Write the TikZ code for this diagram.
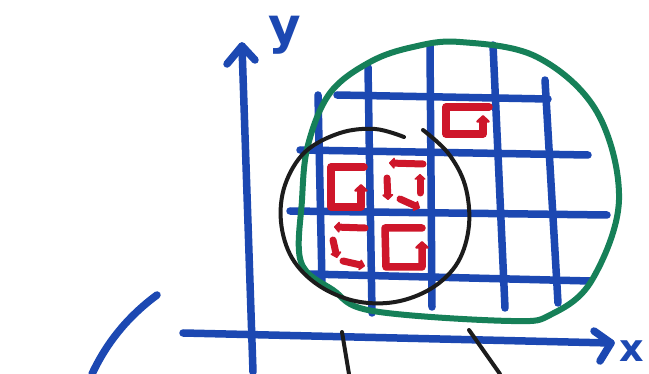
\documentclass[tikz,border=0pt]{standalone}
\usepackage{fontspec}
\usetikzlibrary{arrows.meta}
\newfontfamily\handfont{DejaVu Sans}
\definecolor{mblue}{RGB}{28,72,178}
\definecolor{mgreen}{RGB}{22,128,88}
\definecolor{mred}{RGB}{206,22,42}
\definecolor{mblack}{RGB}{28,28,28}
\tikzset{
  blueline/.style={draw=mblue,line width=7.5pt,line cap=round,line join=round},
  greenline/.style={draw=mgreen,line width=6pt,line cap=round,line join=round},
  blackline/.style={draw=mblack,line width=4pt,line cap=round,line join=round},
  redline/.style={draw=mred,line width=7.5pt,line cap=round,line join=round,-{Triangle[length=8pt,width=16pt,round]}},
  redsmall/.style={draw=mred,line width=7pt,line cap=round,line join=round,-{Triangle[length=6pt,width=13pt,round]}},
  lbl/.style={text=mblue,inner sep=0pt,font=\handfont\bfseries\fontsize{50}{50}\selectfont},
  lblx/.style={text=mblue,inner sep=0pt,font=\handfont\bfseries\fontsize{38}{38}\selectfont}
}
\begin{document}
\begin{tikzpicture}[x=1pt,y=-1pt]
\useasboundingbox[fill=white] (0,0) rectangle (649,374);
% axes
\coordinate (ybot) at (253,372);
\coordinate (ytop) at (242,46);
\draw[blueline] (ybot) -- (ytop);
\draw[blueline] (227,64) -- (ytop) -- (255,60);
\coordinate (xl) at (183,333);
\coordinate (xr) at (611,343);
\draw[blueline] (xl) -- (xr);
\draw[blueline] (594,331) -- (xr) -- (600,361);
\node[lbl,anchor=base] (ylab) at (285,44) {y};
\node[lblx,anchor=base east] (xlab) at (644,362) {x};
% arc bottom left
\draw[blueline] (157,295) .. controls (130,315) and (108,340) .. (92,374);
% grid verticals
\draw[blueline] (318,95) -- (322,283);
\draw[blueline] (368,67) -- (372,313);
\draw[blueline] (430,45) -- (432,307);
\draw[blueline] (493,45) -- (505,308);
\draw[blueline] (545,80) -- (558,303);
% grid horizontals
\draw[blueline] (337,95) -- (548,99);
\draw[blueline] (300,150) -- (588,155);
\draw[blueline] (290,211) -- (607,215);
\draw[blueline] (308,274) -- (590,281);
% green blob
\draw[greenline] plot[smooth cycle,tension=0.6] coordinates {
 (460,42) (537,57) (597,112) (619,200) (592,280) (552,314) (511,321) (373,311) (333,290) (301,262) (302,200) (308,145) (330,93) (370,62) (413,47)};
% black circle
\draw[blackline] plot[smooth,tension=0.6] coordinates {
 (404,137) (375,129) (340,133) (305,152) (285,185) (281,222) (292,258) (318,285) (355,301) (395,302) (432,288) (458,262) (469,225) (465,185) (448,153) (423,130)};
% black lines below
\draw[blackline] (342,332) -- (349,374);
\draw[blackline] (469,330) -- (500,374);
% red G shapes
\draw[redline] (489,107) -- (446,107) -- (446,134) -- (483,134) -- (483,115);
\draw[redline] (364,167) -- (331,167) -- (331,207) -- (361,207) -- (361,184);
\draw[redline] (422,228) -- (385,228) -- (386,267) -- (422,267) -- (422,241);
% small curl arrows, upper cell
\draw[redsmall] (423,164) -- (389,163);
\draw[redsmall] (420,193) -- (420,174);
\draw[redsmall] (387,178) -- (388,200);
\draw[redsmall] (400,199) -- (420,208);
% small curl arrows, lower cell
\draw[redsmall] (365,228) -- (334,227);
\draw[redsmall] (333,240) -- (337,258);
\draw[redsmall] (343,261) -- (365,266);
\end{tikzpicture}
\end{document}
